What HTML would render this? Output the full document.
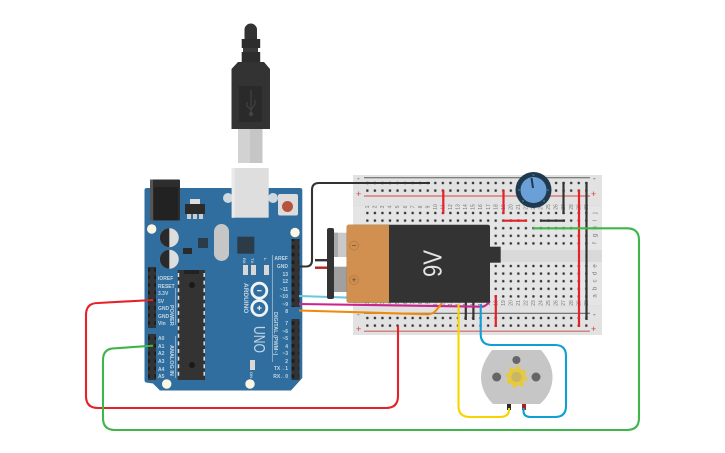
<!DOCTYPE html>
<html><head><meta charset="utf-8"><style>
html,body{margin:0;padding:0;background:#fff;width:725px;height:453px;overflow:hidden}
svg{display:block}
text{font-family:"Liberation Sans",sans-serif}
</style></head><body>
<svg width="725" height="453" viewBox="0 0 725 453" xmlns="http://www.w3.org/2000/svg">
<defs>
<pattern id="h" x="363.6" y="0" width="7.55" height="7.6" patternUnits="userSpaceOnUse"><rect x="2.6" y="2.65" width="2.3" height="2.3" rx=".6" fill="#333"/></pattern>
<pattern id="pin" x="0" y="0" width="7.6" height="7.6" patternUnits="userSpaceOnUse"><rect width="7.6" height="7.6" fill="#333"/><rect x="2.2" y="2" width="3.4" height="3.6" fill="#1c1c1c"/></pattern>
</defs>

<!-- Breadboard -->
<rect x="353" y="175" width="249" height="160" fill="#dedede"/>
<rect x="353" y="175" width="249" height="30" fill="#e2e2e2"/>
<rect x="353" y="206" width="249" height="44" fill="#e5e5e5"/>
<rect x="353" y="250" width="249" height="12" fill="#d9d9d9"/>
<rect x="353" y="262" width="249" height="43" fill="#e5e5e5"/>
<rect x="353" y="305.500" width="249" height="29.500" fill="#e2e2e2"/>
<line x1="364" y1="177.700" x2="590" y2="177.700" stroke="#808080" stroke-width="1.400"/>
<line x1="364" y1="196" x2="590" y2="196" stroke="#d66" stroke-width="1.200"/>
<line x1="364" y1="313.300" x2="590" y2="313.300" stroke="#666" stroke-width="1.200"/>
<line x1="364" y1="331.200" x2="590" y2="331.200" stroke="#c66" stroke-width="1.200"/>
<rect x="363.6" y="0" width="226.500" height="15.200" fill="url(#h)" transform="translate(0,179.200)"/>
<rect x="363.6" y="0" width="226.500" height="38" fill="url(#h)" transform="translate(0,209.200)"/>
<rect x="363.6" y="0" width="226.500" height="38" fill="url(#h)" transform="translate(0,262.200)"/>
<rect x="363.6" y="0" width="226.500" height="15.200" fill="url(#h)" transform="translate(0,314.200)"/>
<g font-size="9" fill="#c44"><text x="356" y="197">+</text><text x="591" y="197">+</text><text x="356" y="332">+</text><text x="591" y="332">+</text></g>
<g font-size="8" fill="#555"><text x="357" y="181">-</text><text x="593" y="181">-</text><text x="357" y="317">-</text><text x="593" y="317">-</text></g>
<g font-size="6" fill="#777" text-anchor="middle">
<text transform="translate(596.500,213) rotate(-90)">j</text><text transform="translate(596.500,220.500) rotate(-90)">i</text><text transform="translate(596.500,228) rotate(-90)">h</text><text transform="translate(596.500,235.500) rotate(-90)">g</text><text transform="translate(596.500,243) rotate(-90)">f</text>
<text transform="translate(596.500,266) rotate(-90)">e</text><text transform="translate(596.500,273.500) rotate(-90)">d</text><text transform="translate(596.500,281) rotate(-90)">c</text><text transform="translate(596.500,288.500) rotate(-90)">b</text><text transform="translate(596.500,296) rotate(-90)">a</text>
</g>
<g font-size="5" fill="#777" text-anchor="middle">
<g transform="translate(369,207) rotate(-90)"><text>1</text><text x="-96">1</text></g>
<g transform="translate(376.600,207) rotate(-90)"><text>2</text><text x="-96">2</text></g>
<g transform="translate(384.100,207) rotate(-90)"><text>3</text><text x="-96">3</text></g>
<g transform="translate(391.700,207) rotate(-90)"><text>4</text><text x="-96">4</text></g>
<g transform="translate(399.200,207) rotate(-90)"><text>5</text><text x="-96">5</text></g>
<g transform="translate(406.800,207) rotate(-90)"><text>6</text><text x="-96">6</text></g>
<g transform="translate(414.300,207) rotate(-90)"><text>7</text><text x="-96">7</text></g>
<g transform="translate(421.900,207) rotate(-90)"><text>8</text><text x="-96">8</text></g>
<g transform="translate(429.400,207) rotate(-90)"><text>9</text><text x="-96">9</text></g>
<g transform="translate(437,207) rotate(-90)"><text>10</text><text x="-96">10</text></g>
<g transform="translate(444.500,207) rotate(-90)"><text>11</text><text x="-96">11</text></g>
<g transform="translate(452,207) rotate(-90)"><text>12</text><text x="-96">12</text></g>
<g transform="translate(459.600,207) rotate(-90)"><text>13</text><text x="-96">13</text></g>
<g transform="translate(467.100,207) rotate(-90)"><text>14</text><text x="-96">14</text></g>
<g transform="translate(474.700,207) rotate(-90)"><text>15</text><text x="-96">15</text></g>
<g transform="translate(482.200,207) rotate(-90)"><text>16</text><text x="-96">16</text></g>
<g transform="translate(489.800,207) rotate(-90)"><text>17</text><text x="-96">17</text></g>
<g transform="translate(497.300,207) rotate(-90)"><text>18</text><text x="-96">18</text></g>
<g transform="translate(504.900,207) rotate(-90)"><text>19</text><text x="-96">19</text></g>
<g transform="translate(512.400,207) rotate(-90)"><text>20</text><text x="-96">20</text></g>
<g transform="translate(520,207) rotate(-90)"><text>21</text><text x="-96">21</text></g>
<g transform="translate(527.500,207) rotate(-90)"><text>22</text><text x="-96">22</text></g>
<g transform="translate(535,207) rotate(-90)"><text>23</text><text x="-96">23</text></g>
<g transform="translate(542.600,207) rotate(-90)"><text>24</text><text x="-96">24</text></g>
<g transform="translate(550.100,207) rotate(-90)"><text>25</text><text x="-96">25</text></g>
<g transform="translate(557.700,207) rotate(-90)"><text>26</text><text x="-96">26</text></g>
<g transform="translate(565.200,207) rotate(-90)"><text>27</text><text x="-96">27</text></g>
<g transform="translate(572.800,207) rotate(-90)"><text>28</text><text x="-96">28</text></g>
<g transform="translate(580.300,207) rotate(-90)"><text>29</text><text x="-96">29</text></g>
<g transform="translate(587.900,207) rotate(-90)"><text>30</text><text x="-96">30</text></g>
</g>

<!-- Board jumpers -->
<g fill="none" stroke-width="2.200">
<line x1="443.300" y1="190" x2="443.300" y2="214" stroke="#e3222a"/>
<line x1="503.500" y1="190" x2="503.500" y2="214" stroke="#e3222a"/>
<line x1="503" y1="220.700" x2="527" y2="220.700" stroke="#e3222a"/>
<line x1="540" y1="220.700" x2="565" y2="220.700" stroke="#333"/>
<line x1="563.500" y1="182" x2="563.500" y2="214" stroke="#333"/>
<line x1="579" y1="190" x2="579" y2="327" stroke="#e3222a"/>
<line x1="586.500" y1="182" x2="586.500" y2="320" stroke="#333"/>
<line x1="495.800" y1="295" x2="495.800" y2="327" stroke="#e3222a"/>
<line x1="465.800" y1="300" x2="465.800" y2="320" stroke="#333"/>
<line x1="473.400" y1="300" x2="473.400" y2="320" stroke="#333"/>
</g>

<!-- Potentiometer -->
<circle cx="533.500" cy="190" r="18" fill="#1f3a4f"/>
<circle cx="533.500" cy="190" r="13" fill="#6a9fd8"/>
<line x1="531.500" y1="178" x2="533" y2="188" stroke="#1f3a4f" stroke-width="2"/>
<g fill="#4a6a84"><circle cx="519" cy="190" r="1"/><circle cx="548" cy="190" r="1"/><circle cx="523" cy="201" r="1"/><circle cx="544" cy="201" r="1"/><circle cx="533.500" cy="175" r="1"/></g>

<!-- USB cable -->
<path d="M244.500 43V29A6.300 6.300 0 0 1 257 29V43Z" fill="#333"/>
<rect x="241.700" y="39" width="18.500" height="9" fill="#2d2d2d"/>
<rect x="243" y="48" width="15" height="4" fill="#3a3a3a"/>
<rect x="241.700" y="52" width="18.500" height="10" fill="#2d2d2d"/>
<path d="M238 62H264L270 69V129H231.500V69Z" fill="#333"/>
<rect x="239" y="86" width="23" height="36" fill="#2a2a2a"/>
<g stroke="#444" stroke-width="1" fill="none"><line x1="251" y1="90" x2="251" y2="114"/><path d="M247 102V106L251 110L255 104V100"/></g>
<circle cx="251" cy="114" r="2.200" fill="#444"/>
<rect x="238" y="129" width="24.500" height="34" fill="#d2d2d2"/>
<rect x="250" y="129" width="12.500" height="34" fill="#c6c6c6"/>

<!-- Arduino -->
<path d="M147 188H300Q302.300 188 302.300 190V378L291 390.500H160L153 383.500L146 382.500Q144.500 382 144.500 380V190Q144.500 188 147 188Z" fill="#2f6e9e"/>
<rect x="150" y="179.500" width="30" height="41" rx="1" fill="#2d2d2d"/>
<rect x="154" y="187" width="24" height="33" rx="2" fill="#222"/>
<rect x="150" y="179.500" width="3" height="41" fill="#555"/>
<circle cx="228" cy="198" r="5" fill="#cfd8de"/><circle cx="273" cy="198" r="5" fill="#cfd8de"/>
<rect x="231.700" y="168" width="37" height="49.700" fill="#dedede"/>
<rect x="231.700" y="168" width="3" height="49.700" fill="#eaeaea"/>
<rect x="278" y="194" width="20" height="21.500" rx="2" fill="#dcdcdc"/>
<circle cx="287.500" cy="206.500" r="5.500" fill="#b5533c"/>
<rect x="185" y="204" width="20" height="10" fill="#2b2b2b"/><rect x="190" y="199" width="10" height="5" fill="#ddd"/>
<rect x="187" y="214" width="4" height="5" fill="#ccc"/><rect x="193" y="214" width="4" height="5" fill="#ccc"/><rect x="199" y="214" width="4" height="5" fill="#ccc"/>
<circle cx="151.700" cy="229" r="4.700" fill="#fbf6e4"/><circle cx="295" cy="232.500" r="4.700" fill="#fbf6e4"/>
<circle cx="166.700" cy="384" r="4.700" fill="#fbf6e4"/><circle cx="250" cy="384" r="4.700" fill="#fbf6e4"/>
<circle cx="169.300" cy="237.700" r="9.500" fill="#ddd"/><path d="M169.300 228.200A9.500 9.500 0 0 0 169.300 247.200Z" fill="#2a2a2a"/>
<circle cx="169.300" cy="259.300" r="9.500" fill="#ddd"/><path d="M169.300 249.800A9.500 9.500 0 0 0 169.300 268.800Z" fill="#2a2a2a"/>
<rect x="198" y="238" width="10" height="10" fill="#2b3b47"/>
<rect x="237.300" y="236.700" width="17" height="17" fill="#2b3b47"/>
<rect x="214" y="224" width="15" height="37" rx="7.500" fill="#c6c6c6"/>
<rect x="183" y="248" width="9" height="6" fill="#2a2a2a"/>
<rect x="243" y="265" width="5" height="10" fill="#d8d8d8"/><rect x="251" y="265" width="5" height="10" fill="#d8d8d8"/><rect x="264" y="265" width="5" height="10" fill="#d8d8d8"/>
<rect x="177.700" y="270" width="27.300" height="110" fill="#333"/>
<rect x="184" y="270" width="15" height="4" fill="#222"/>
<g stroke="#ddd" stroke-width="1.500" stroke-dasharray="4 3.600"><line x1="178.500" y1="273" x2="178.500" y2="378"/><line x1="204.200" y1="273" x2="204.200" y2="378"/></g>
<circle cx="192" cy="285" r="3" fill="#1a1a1a"/><circle cx="192" cy="365" r="3" fill="#1a1a1a"/>
<rect x="148" y="267" width="8" height="61" fill="url(#pin)"/>
<rect x="148" y="334" width="8" height="46" fill="url(#pin)"/>
<rect x="291.500" y="239" width="8" height="68" fill="url(#pin)"/>
<rect x="291.500" y="319" width="8" height="61" fill="url(#pin)"/>
<g font-size="5" font-weight="bold" fill="#dce7ef" fill-opacity=".85">
<text x="158" y="280">IOREF</text><text x="158" y="288">RESET</text><text x="158" y="295">3.3V</text><text x="158" y="303">5V</text><text x="158" y="310">GND</text><text x="158" y="318">GND</text><text x="158" y="325">Vin</text>
<text x="158" y="340">A0</text><text x="158" y="348">A1</text><text x="158" y="355">A2</text><text x="158" y="363">A3</text><text x="158" y="371">A4</text><text x="158" y="378">A5</text>
</g>
<g font-size="5" font-weight="bold" fill="#dce7ef" fill-opacity=".85" text-anchor="end">
<text x="288" y="260">AREF</text><text x="288" y="268">GND</text><text x="288" y="276">13</text><text x="288" y="283">12</text><text x="288" y="291">~11</text><text x="288" y="298">~10</text><text x="288" y="306">~9</text><text x="288" y="313">8</text>
<text x="288" y="325">7</text><text x="288" y="333">~6</text><text x="288" y="340">~5</text><text x="288" y="348">4</text><text x="288" y="355">~3</text><text x="288" y="363">2</text><text x="288" y="370">TX&#8594;1</text><text x="288" y="378">RX&#8592;0</text>
</g>
<g fill="#dce7ef" font-weight="bold" fill-opacity=".85">
<text transform="translate(170,305) rotate(90)" font-size="5.500">POWER</text>
<text transform="translate(170,345) rotate(90)" font-size="5.500">ANALOG IN</text>
<text transform="translate(274,312) rotate(90)" font-size="5.500">DIGITAL (PWM~)</text>
<text transform="translate(244,283) rotate(90)" font-size="6.500">ARDUINO</text>
<text transform="translate(254,326) rotate(90)" font-size="16" font-weight="normal" textLength="27" lengthAdjust="spacingAndGlyphs">UNO</text>
<text transform="translate(243,258) rotate(90)" font-size="4">RX</text><text transform="translate(251,258) rotate(90)" font-size="4">TX</text><text transform="translate(264,258) rotate(90)" font-size="4">L</text>
<text transform="translate(250,372) rotate(90)" font-size="4">ON</text>
</g>
<g fill="none" stroke="#eef3f6" stroke-width="2.800"><circle cx="259.300" cy="290.700" r="7.500"/><circle cx="259.300" cy="308" r="7.500"/></g>
<g stroke="#eef3f6" stroke-width="1.200"><line x1="257" y1="290.700" x2="261.600" y2="290.700"/><line x1="257" y1="308" x2="261.600" y2="308"/><line x1="259.300" y1="305.700" x2="259.300" y2="310.300"/></g>
<g stroke="#b8cddd" stroke-width=".7"><line x1="272.300" y1="255" x2="272.300" y2="362"/><line x1="175.700" y1="288" x2="175.700" y2="325"/><line x1="175.700" y1="336" x2="175.700" y2="378"/></g>
<rect x="250" y="360" width="5" height="10" fill="#d8d8d8"/>

<!-- Motor -->
<path d="M492 350H541C548 358 552.500 367 552.500 377C552.500 388 548 397 540 404H493C486 397 481 388 481 377C481 367 486 358 492 350Z" fill="#c6c6c6"/>
<circle cx="516.400" cy="360" r="4" fill="#666"/><circle cx="496.700" cy="377" r="4.500" fill="#666"/><circle cx="536" cy="377" r="4.500" fill="#666"/>
<circle cx="516.400" cy="377" r="9.500" fill="none" stroke="#e8c93a" stroke-width="3" stroke-dasharray="3.700 3.700"/>
<circle cx="516.400" cy="377" r="8.500" fill="#e8c93a"/>
<circle cx="516.400" cy="377" r="5.200" fill="#c9b766"/>
<rect x="507" y="404" width="4" height="6" fill="#2a2a2a"/><rect x="522" y="404" width="4" height="6" fill="#a8201f"/>

<!-- Wires -->
<g fill="none" stroke-width="2.100" stroke-linejoin="round">
<path d="M299 266.500H306Q312 266.500 312 260V190Q312 183 319 183H430" stroke="#333"/>
<path d="M299 296L347 297.600" stroke="#6cc8dc"/>
<path d="M299 304L482 306.700Q486 306.500 490 301" stroke="#c9258e"/>
<path d="M299 310.500L428 314.300Q433 314 436 310.500L442 303" stroke="#f08a0c"/>
<path d="M153 300L98 303Q86 303 86 315V396Q86 408 98 408H386Q398 408 398 396V326" stroke="#e3222a"/>
<path d="M153 345.700L115 348.300Q103 348.300 103 360V418Q103 430 115 430H627Q639 430 639 418V240Q639 228.300 627 228.300H533" stroke="#3fb54a"/>
<path d="M458.500 304V406Q458.500 417 470 417H499Q509 417 509 410V408" stroke="#f7d400"/>
<path d="M480.700 304V334Q480.700 345 492 345H555Q566 345 566 356V406Q566 417 555 417H531Q523.500 417 523.500 411V408" stroke="#0f9fd3"/>
</g>

<!-- Battery -->
<rect x="327" y="228" width="7" height="71" rx="2" fill="#333"/>
<rect x="334" y="232.700" width="13" height="24.300" fill="#c9c9c9"/><rect x="334" y="232.700" width="4" height="24.300" fill="#aaa"/>
<rect x="334" y="266.700" width="13" height="25.300" fill="#a0a0a0"/>
<rect x="315" y="259" width="12" height="2.400" fill="#333"/><rect x="315" y="266.500" width="12" height="2.400" fill="#b5201f"/>
<path d="M346.700 227Q346.700 224.700 349 224.700H488Q490 224.700 490 227V300.700Q490 302.700 488 302.700H349Q346.700 302.700 346.700 300.700Z" fill="#333"/>
<path d="M346.700 227Q346.700 224.700 349 224.700H389V302.700H349Q346.700 302.700 346.700 300.700Z" fill="#d29050"/>
<rect x="490" y="246.700" width="10.700" height="16" fill="#333"/>
<circle cx="354" cy="245.700" r="4.500" fill="none" stroke="#b07a44" stroke-width=".8"/>
<text x="354" y="248.700" font-size="9" text-anchor="middle" fill="#5d4a33">&#8722;</text>
<circle cx="354" cy="280" r="4.500" fill="none" stroke="#b07a44" stroke-width=".8"/>
<text x="354" y="283" font-size="9" text-anchor="middle" fill="#5d4a33">+</text>
<text transform="translate(441.500,277) rotate(-90)" font-size="26" fill="#e4e4e4" textLength="27" lengthAdjust="spacingAndGlyphs">9V</text>
</svg>
</body></html>
